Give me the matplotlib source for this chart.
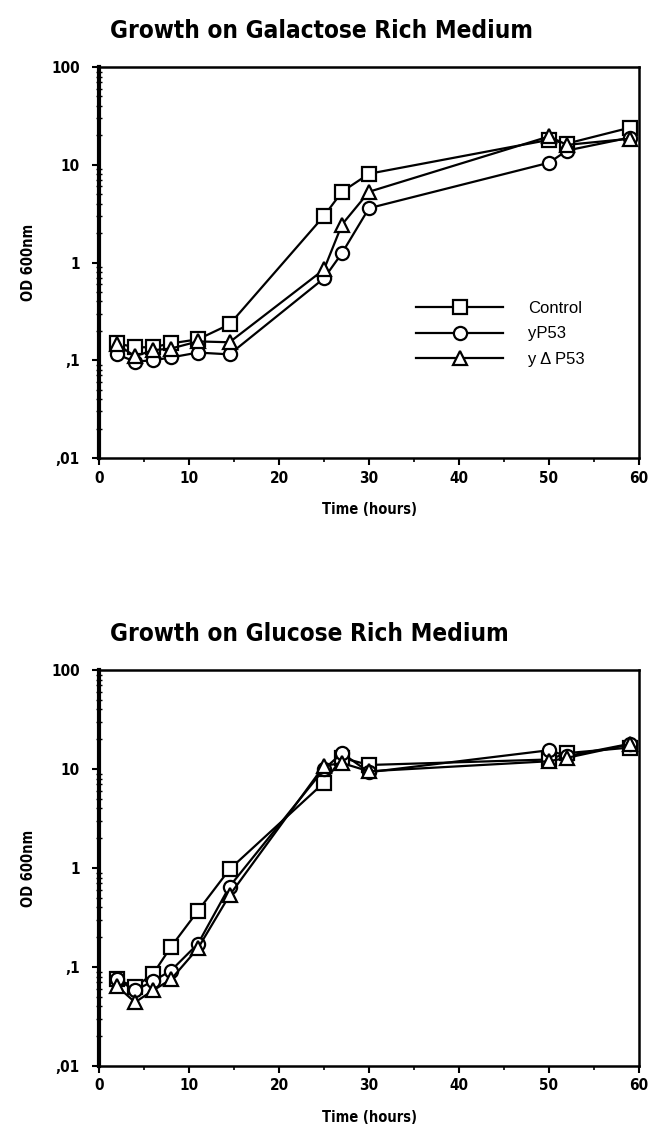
import matplotlib
matplotlib.use("Agg")
import matplotlib.pyplot as plt
from matplotlib.ticker import FixedLocator, LogLocator, NullFormatter, MultipleLocator

# time points (hours)
hours = [2, 4, 6, 8, 11, 14.5, 25, 27, 30, 50, 52, 59]

# galactose medium, OD 600nm
gal_control = [0.149, 0.136, 0.136, 0.149, 0.164, 0.233, 3.0, 5.3, 8.1, 18, 16.5, 24]
gal_yp53 = [0.115, 0.097, 0.100, 0.107, 0.120, 0.115, 0.69, 1.25, 3.6, 10.5, 14, 19]
gal_ydp53 = [0.146, 0.110, 0.127, 0.132, 0.156, 0.153, 0.85, 2.45, 5.3, 19.5, 16, 18.5]

# glucose medium, OD 600nm
glu_control = [0.075, 0.063, 0.085, 0.16, 0.37, 0.97, 7.3, 13, 11, 12.5, 14.5, 16.5]
glu_yp53 = [0.075, 0.058, 0.072, 0.092, 0.172, 0.65, 10, 14.5, 9.3, 15.5, 13.5, 18]
glu_ydp53 = [0.064, 0.044, 0.058, 0.075, 0.155, 0.53, 10.8, 11.5, 9.5, 12, 13, 17.8]

titles = ["Growth on Galactose Rich Medium", "Growth on Glucose Rich Medium"]
labels = ["Control", "yP53", "y \u0394 P53"]
yticks = [0.01, 0.1, 1, 10, 100]
yticklabels = [",01", ",1", "1", "10", "100"]
xticks = [0, 10, 20, 30, 40, 50, 60]

bold_font = dict(family="DejaVu Sans", weight="bold", stretch="condensed")

fig = plt.figure(figsize=(6.48, 11.31), dpi=100)
ax1 = fig.add_axes([0.1528, 0.595, 0.8333, 0.3457])
ax2 = fig.add_axes([0.1528, 0.0575, 0.8333, 0.350])

series = [(gal_control, gal_yp53, gal_ydp53), (glu_control, glu_yp53, glu_ydp53)]
markers = [("s", 9.5), ("o", 9.5), ("^", 10.5)]

for ax, data, title in zip([ax1, ax2], series, titles):
    for vals, (m, ms), lab in zip(data, markers, labels):
        ax.plot(hours, vals, color="black", lw=1.6, marker=m, ms=ms,
                mfc="white", mec="black", mew=1.6, label=lab)
    ax.set_yscale("log")
    ax.set_ylim(0.01, 100)
    ax.set_xlim(0, 60)
    ax.yaxis.set_major_locator(FixedLocator(yticks))
    ax.set_yticks(yticks)
    ax.set_yticklabels(yticklabels, fontsize=11, **bold_font)
    ax.yaxis.set_minor_locator(LogLocator(base=10, subs=range(2, 10)))
    ax.yaxis.set_minor_formatter(NullFormatter())
    ax.set_xticks(xticks)
    ax.set_xticklabels([str(x) for x in xticks], fontsize=11, **bold_font)
    ax.xaxis.set_minor_locator(MultipleLocator(5))
    ax.tick_params(axis="y", which="major", direction="out", length=5, width=1.5, pad=9)
    ax.tick_params(axis="x", which="major", direction="out", length=5, width=1.5, pad=4)
    ax.tick_params(axis="y", which="minor", direction="inout", length=4, width=1)
    ax.tick_params(axis="x", which="minor", direction="out", length=3, width=1.2)
    for s in ["top", "right", "bottom"]:
        ax.spines[s].set_linewidth(1.8)
    ax.spines["left"].set_linewidth(3)
    ax.set_xlabel("Time (hours)", fontsize=10.5, labelpad=12, **bold_font)
    ax.set_ylabel("OD 600nm", fontsize=10.5, labelpad=11, **bold_font)
    ax.set_title(title, loc="left", fontsize=17.5, pad=21, x=0.02, **bold_font)

ax1.legend(loc="upper left", bbox_to_anchor=(0.56, 0.44), frameon=False,
           handlelength=5.2, labelspacing=0.62, handletextpad=1.5,
           prop=dict(family="Liberation Sans", size=12))

fig.savefig("out.png", dpi=100)
